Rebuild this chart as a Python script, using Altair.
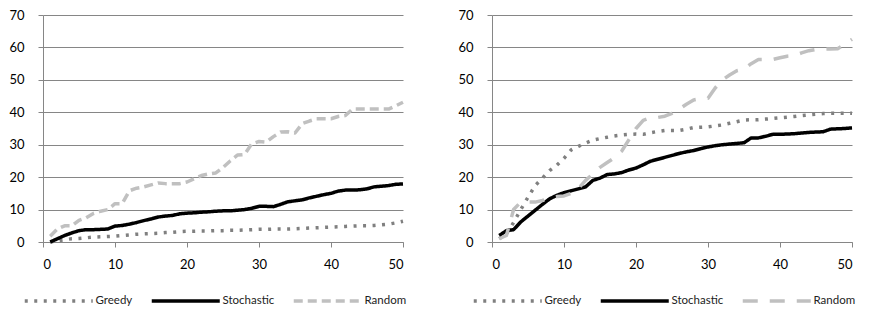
import altair as alt
import pandas as pd

steps = list(range(1, 51))
series_names = ["Greedy", "Stochastic", "Random"]
series_colors = ["#808080", "#000000", "#C0C0C0"]
x_ticks = [0, 10, 20, 30, 40, 50]
y_ticks = [0, 10, 20, 30, 40, 50, 60, 70]

left_greedy = [0, 0.3, 0.7, 1.0, 1.1, 1.3, 1.5, 1.6, 1.7, 1.8,
               2.0, 2.2, 2.4, 2.5, 2.6, 2.7, 2.9, 3.0, 3.2, 3.3,
               3.3, 3.4, 3.4, 3.5, 3.5, 3.6, 3.6, 3.7, 3.8, 3.9,
               3.9, 4.0, 4.0, 4.0, 4.1, 4.2, 4.3, 4.4, 4.5, 4.6,
               4.7, 4.8, 4.9, 5.0, 5.0, 5.1, 5.3, 5.5, 5.9, 6.4]
left_stochastic = [0, 1.0, 2.0, 2.8, 3.5, 3.8, 3.8, 3.9, 4.0, 4.9,
                   5.1, 5.5, 6.0, 6.6, 7.1, 7.7, 8.0, 8.2, 8.7, 8.9,
                   9.0, 9.2, 9.3, 9.5, 9.6, 9.6, 9.8, 10.0, 10.4, 11.0,
                   11.0, 10.9, 11.6, 12.4, 12.7, 13.0, 13.6, 14.1, 14.6, 15.0,
                   15.7, 16.0, 16.0, 16.1, 16.4, 17.0, 17.2, 17.4, 17.8, 17.9]
left_random = [1.8, 4.0, 5.0, 5.0, 6.7, 7.5, 8.8, 9.5, 10.0, 11.8,
               11.8, 15.8, 16.6, 17.0, 17.6, 18.2, 18.0, 18.0, 18.0, 18.5,
               19.5, 20.5, 21.0, 21.3, 23.0, 25.0, 26.8, 27.0, 30.3, 31.0,
               30.8, 32.5, 33.9, 34.0, 33.6, 36.5, 37.3, 38.0, 38.0, 38.0,
               38.7, 39.0, 41.0, 41.0, 41.0, 41.0, 41.0, 41.0, 42.0, 43.1]

right_greedy = [1.0, 2.5, 6.0, 10.0, 13.8, 17.4, 19.7, 22.0, 23.7, 25.8,
                28.4, 29.5, 30.5, 31.4, 31.9, 32.3, 32.7, 33.0, 33.2, 33.3,
                33.2, 33.7, 34.1, 34.4, 34.4, 34.4, 34.8, 35.3, 35.4, 35.5,
                35.8, 36.1, 36.6, 37.1, 37.6, 37.7, 37.7, 37.9, 38.1, 38.3,
                38.5, 38.7, 39.0, 39.2, 39.4, 39.6, 39.7, 39.7, 39.7, 39.7]
right_stochastic = [2.0, 3.5, 3.8, 6.2, 8.0, 9.8, 11.6, 13.3, 14.4, 15.2,
                    15.8, 16.4, 17.0, 19.0, 19.7, 20.8, 21.0, 21.4, 22.2, 22.8,
                    23.8, 24.9, 25.5, 26.1, 26.7, 27.3, 27.8, 28.2, 28.8, 29.3,
                    29.7, 30.0, 30.2, 30.4, 30.6, 32.1, 32.1, 32.6, 33.2, 33.2,
                    33.3, 33.4, 33.6, 33.8, 33.9, 34.0, 34.8, 34.9, 35.0, 35.2]
right_random = [1.0, 2.0, 10.0, 12.3, 12.3, 12.3, 12.8, 13.6, 14.0, 14.2,
                15.0, 16.5, 19.0, 21.0, 23.0, 24.5, 26.0, 28.0, 31.5, 35.0,
                37.5, 38.3, 38.4, 38.8, 39.7, 41.0, 42.5, 43.8, 44.2, 44.3,
                47.5, 50.0, 51.5, 52.8, 53.3, 55.0, 56.3, 56.3, 56.3, 56.8,
                57.3, 57.5, 58.3, 59.0, 59.4, 59.5, 59.5, 59.6, 61.0, 62.5]

FONT = "Lato"
GRID = "#868686"
# flat legend swatch drawn to the right of the symbol centre
# (symbol size 36 -> path unit = 3px, so 22.67 units = 68px)
SWATCH = "M0,0H22.67"


def to_long(greedy, stochastic, rand):
    rows = []
    for name, vals in zip(series_names, [greedy, stochastic, rand]):
        for x, v in zip(steps, vals):
            rows.append({"step": x, "value": v, "series": name})
    return pd.DataFrame(rows)


def panel(df, dashes):
    legend = alt.Legend(
        title=None, orient="none", direction="horizontal",
        legendX=-19, legendY=280,
        symbolType=SWATCH, symbolSize=36, symbolStrokeWidth=3.5,
        symbolOffset=-5,
        labelFont=FONT, labelFontSize=11.5, labelColor="#222222",
        labelOffset=65, columnPadding=11, padding=0,
    )
    return alt.Chart(df).mark_line(strokeWidth=3.5, strokeJoin="round").encode(
        x=alt.X("step:Q",
                scale=alt.Scale(domain=[0, 50], nice=False),
                axis=alt.Axis(values=x_ticks, grid=False, title=None,
                              tickSize=5, labelPadding=11,
                              domainColor=GRID, tickColor=GRID,
                              labelFont=FONT, labelFontSize=13,
                              labelColor="#000000")),
        y=alt.Y("value:Q",
                scale=alt.Scale(domain=[0, 70], nice=False),
                axis=alt.Axis(values=y_ticks, grid=True, gridColor=GRID,
                              gridOpacity=1, title=None, tickSize=5,
                              labelPadding=14, domainColor=GRID,
                              tickColor=GRID, labelFont=FONT,
                              labelFontSize=13, labelColor="#000000")),
        color=alt.Color("series:N",
                        scale=alt.Scale(domain=series_names,
                                        range=series_colors),
                        legend=legend),
        strokeDash=alt.StrokeDash("series:N",
                                  scale=alt.Scale(domain=series_names,
                                                  range=dashes),
                                  legend=legend),
    ).properties(width=360, height=227)


left = panel(to_long(left_greedy, left_stochastic, left_random),
             [[3, 6.5], [1, 0], [9, 5]])
right = panel(to_long(right_greedy, right_stochastic, right_random),
              [[3, 6.5], [1, 0], [15, 12]])

chart = alt.hconcat(left, right, spacing=50).resolve_scale(
    color="independent", strokeDash="independent"
).resolve_legend(
    color="independent", strokeDash="independent"
).properties(
    padding={"left": 0, "top": 1, "right": 0, "bottom": 0}
).configure_view(stroke=None)

chart.save("out.html", embed_options={"renderer": "svg", "actions": False})
